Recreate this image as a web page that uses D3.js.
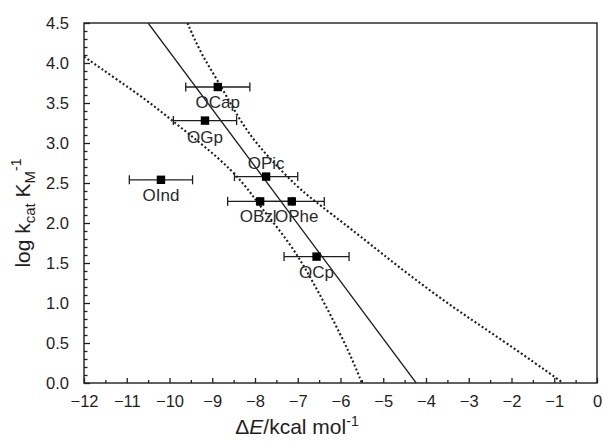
<!DOCTYPE html>
<html>
<head>
<meta charset="utf-8">
<script src="https://cdn.jsdelivr.net/npm/d3@7"></script>
<style>
  html, body { margin: 0; padding: 0; background: #fff; }
  svg { display: block; font-family: "Liberation Sans", Arial, sans-serif; }
</style>
</head>
<body>
<svg id="chart" width="603" height="441"></svg>
<script>
// ---- data ----
const names  = ["OCap", "OGp", "OPic", "OInd", "OBzl", "OPhe", "OCp"];
const deltaE = [-8.87, -9.17, -7.74, -10.20, -7.88, -7.14, -6.56];
const logK   = [3.70, 3.28, 2.58, 2.54, 2.27, 2.27, 1.58];
const errE   = [0.75, 0.74, 0.74, 0.74, 0.76, 0.76, 0.76];

// linear fit (solid line) end points
const fitX = [-10.50, -4.23];
const fitY = [4.5, 0.0];

// upper confidence band (dotted)
const upperX = [-9.58, -9.27, -8.88, -8.49, -8.10, -7.63, -7.01, -6.64, -6.23, -5.62, -4.45, -3.28, -2.11, -0.79];
const upperY = [4.50, 4.12, 3.79, 3.41, 3.08, 2.79, 2.45, 2.29, 2.12, 1.87, 1.37, 0.91, 0.50, 0.00];

// lower confidence band (dotted)
const lowerX = [-12.00, -11.22, -10.44, -9.66, -8.88, -8.26, -7.87, -7.18, -6.71, -6.25, -5.78, -5.50];
const lowerY = [4.08, 3.79, 3.50, 3.16, 2.83, 2.50, 2.20, 1.75, 1.33, 0.87, 0.37, 0.00];

const xTicks = [-12, -11, -10, -9, -8, -7, -6, -5, -4, -3, -2, -1, 0];
const yTicks = [0.0, 0.5, 1.0, 1.5, 2.0, 2.5, 3.0, 3.5, 4.0, 4.5];

// ---- layout ----
const L = 84, R = 597, T = 23, B = 383;
const ink = "#1e1e1e";
const svg = d3.select("#chart");

const x = d3.scaleLinear().domain([-12, 0]).range([L, R]);
const y = d3.scaleLinear().domain([0, 4.5]).range([B, T]);

// label placement (layout only)
const labelPlace = {
  OCap: {dx: 0, dy: 21}, OGp: {dx: 0, dy: 22}, OPic: {dx: 0, dy: -8},
  OInd: {dx: 0, dy: 21}, OBzl: {dx: -2, dy: 21}, OPhe: {dx: 5, dy: 21},
  OCp: {dx: 0, dy: 21}
};

svg.append("defs").append("clipPath").attr("id", "clip")
  .append("rect").attr("x", L).attr("y", T).attr("width", R - L).attr("height", B - T);

// ---- axes ----
const xMinor = d3.range(-12, 0.001, 0.5).filter(v => Math.abs(v - Math.round(v)) > 1e-6);
const yMinor = d3.range(0, 4.5001, 0.1).map(v => +v.toFixed(1)).filter(v => Math.abs(v * 2 - Math.round(v * 2)) > 1e-6);

const xAxis = d3.axisBottom(x).tickValues(xTicks).tickFormat(d3.format("d")).tickSizeInner(-5).tickSizeOuter(0).tickPadding(12);
const gx = svg.append("g").attr("transform", `translate(0,${B})`).call(xAxis);
const xAxisMinor = d3.axisBottom(x).tickValues(xMinor).tickFormat("").tickSizeInner(-3).tickSizeOuter(0);
const gxm = svg.append("g").attr("transform", `translate(0,${B})`).call(xAxisMinor);

const yAxis = d3.axisLeft(y).tickValues(yTicks).tickFormat(d3.format(".1f")).tickSizeInner(-6).tickSizeOuter(0).tickPadding(15);
const gy = svg.append("g").attr("transform", `translate(${L},0)`).call(yAxis);
const yAxisMinor = d3.axisLeft(y).tickValues(yMinor).tickFormat("").tickSizeInner(-3.5).tickSizeOuter(0);
const gym = svg.append("g").attr("transform", `translate(${L},0)`).call(yAxisMinor);

[gx, gxm, gy, gym].forEach(g => {
  g.select(".domain").remove();
  g.selectAll(".tick line").attr("stroke", ink).attr("stroke-width", 1.3);
  g.selectAll(".tick text").attr("fill", ink).attr("font-size", "16.5px")
    .attr("font-family", "'Liberation Sans', Arial, sans-serif");
});

// frame
svg.append("rect").attr("x", L).attr("y", T).attr("width", R - L).attr("height", B - T)
  .attr("fill", "none").attr("stroke", ink).attr("stroke-width", 1.4);

// ---- lines ----
const plot = svg.append("g").attr("clip-path", "url(#clip)");
const line = d3.line().x(d => x(d[0])).y(d => y(d[1]));
const curve = d3.line().x(d => x(d[0])).y(d => y(d[1])).curve(d3.curveBasis);

plot.append("path").datum(d3.zip(fitX, fitY)).attr("d", line)
  .attr("fill", "none").attr("stroke", ink).attr("stroke-width", 1.3);
plot.append("path").datum(d3.zip(upperX, upperY)).attr("d", curve)
  .attr("fill", "none").attr("stroke", ink).attr("stroke-width", 2.1).attr("stroke-dasharray", "2,2.3");
plot.append("path").datum(d3.zip(lowerX, lowerY)).attr("d", curve)
  .attr("fill", "none").attr("stroke", ink).attr("stroke-width", 2.1).attr("stroke-dasharray", "2,2.3");

// ---- error bars & markers ----
const pts = names.map((n, i) => ({name: n, x: deltaE[i], y: logK[i], e: errE[i]}));
const eb = svg.append("g").attr("stroke", ink).attr("stroke-width", 1.3);
pts.forEach(p => {
  eb.append("line").attr("x1", x(p.x - p.e)).attr("x2", x(p.x + p.e)).attr("y1", y(p.y)).attr("y2", y(p.y));
  [p.x - p.e, p.x + p.e].forEach(v => {
    eb.append("line").attr("x1", x(v)).attr("x2", x(v)).attr("y1", y(p.y) - 4.5).attr("y2", y(p.y) + 4.5);
  });
});
svg.append("g").selectAll("rect").data(pts).join("rect")
  .attr("x", d => x(d.x) - 4.2).attr("y", d => y(d.y) - 4.2)
  .attr("width", 8.4).attr("height", 8.4).attr("fill", "#000");

svg.append("g").selectAll("text").data(pts).join("text")
  .attr("x", d => x(d.x) + labelPlace[d.name].dx)
  .attr("y", d => y(d.y) + labelPlace[d.name].dy)
  .attr("text-anchor", "middle").attr("font-size", "17px").attr("fill", "#2a2a2a")
  .text(d => d.name);

// ---- axis titles ----
const xt = svg.append("text").attr("x", 297).attr("y", 434).attr("text-anchor", "middle")
  .attr("font-size", "21px").attr("fill", ink);
xt.append("tspan").text("\u0394");
xt.append("tspan").attr("font-style", "italic").text("E");
xt.append("tspan").text("/kcal mol");
xt.append("tspan").attr("font-size", "14px").attr("dy", -8).text("-1");

const yt = svg.append("text").attr("transform", "translate(30,213) rotate(-90)")
  .attr("text-anchor", "middle").attr("font-size", "21px").attr("fill", ink);
yt.append("tspan").text("log k");
yt.append("tspan").attr("font-size", "15px").attr("dy", 5).text("cat");
yt.append("tspan").attr("dy", -5).text(" K");
yt.append("tspan").attr("font-size", "15px").attr("dy", 5).text("M");
yt.append("tspan").attr("font-size", "14px").attr("dy", -14).text("-1");
</script>
</body>
</html>
